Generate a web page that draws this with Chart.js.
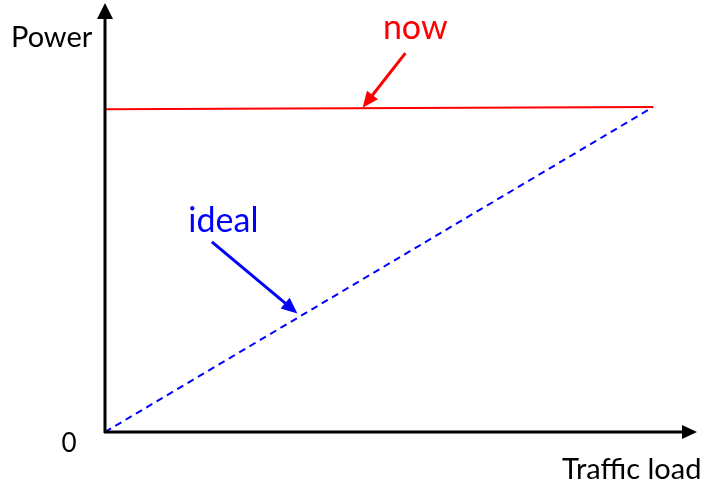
<!DOCTYPE html>
<html lang="en">
<head>
    <meta charset="UTF-8">
    <title>Power vs Traffic load</title>
    <script src="https://cdn.jsdelivr.net/npm/chart.js"></script>
    <style>
        html, body { margin: 0; padding: 0; background: #fff; }
        #wrap { width: 708px; height: 485px; }
    </style>
</head>
<body>
    <div id="wrap"><canvas id="powerChart" width="708" height="485"></canvas></div>

    <script>
        // data (traffic load 0..100, power 0..100)
        const loadPoints = [0, 100];
        const nowPower = [99.3, 100];
        const idealPower = [0, 100];

        // axis ranges (room for the arrow heads)
        const loadMax = 108;
        const powerMax = 132;

        // annotation arrows, in data units: [fromX, fromY, toX, toY]
        const nowArrow = [54.8, 116.6, 47.0, 99.8];
        const idealArrow = [19.5, 58.5, 35.1, 36.5];
        const nowLabel = [56.6, 124.2];
        const idealLabel = [21.6, 65.0];

        const FONT = 'Lato, "Open Sans", sans-serif';

        function arrowHead(ctx, x1, y1, x2, y2, len, half) {
            const a = Math.atan2(y2 - y1, x2 - x1);
            ctx.beginPath();
            ctx.moveTo(x2, y2);
            ctx.lineTo(x2 - len * Math.cos(a) + half * Math.sin(a), y2 - len * Math.sin(a) - half * Math.cos(a));
            ctx.lineTo(x2 - len * Math.cos(a) - half * Math.sin(a), y2 - len * Math.sin(a) + half * Math.cos(a));
            ctx.closePath();
            ctx.fill();
        }

        function drawArrow(ctx, x1, y1, x2, y2, color) {
            const a = Math.atan2(y2 - y1, x2 - x1);
            ctx.strokeStyle = color;
            ctx.fillStyle = color;
            ctx.lineWidth = 3;
            ctx.beginPath();
            ctx.moveTo(x1, y1);
            ctx.lineTo(x2 - 12 * Math.cos(a), y2 - 12 * Math.sin(a));
            ctx.stroke();
            arrowHead(ctx, x1, y1, x2, y2, 16, 7);
        }

        const axesPlugin = {
            id: 'axesPlugin',
            afterDatasetsDraw(chart) {
                const ctx = chart.ctx;
                const xs = chart.scales.x, ys = chart.scales.y;
                const ox = xs.getPixelForValue(0), oy = ys.getPixelForValue(0);
                const xr = xs.getPixelForValue(loadMax), yt = ys.getPixelForValue(powerMax);
                ctx.save();

                // axes
                ctx.strokeStyle = '#000';
                ctx.fillStyle = '#000';
                ctx.lineWidth = 3;
                ctx.beginPath();
                ctx.moveTo(ox, oy + 1);
                ctx.lineTo(ox, yt + 10);
                ctx.moveTo(ox - 1, oy);
                ctx.lineTo(xr - 10, oy);
                ctx.stroke();
                arrowHead(ctx, ox, oy, ox, yt, 16, 8);
                arrowHead(ctx, ox, oy, xr, oy, 15, 7);

                // axis texts
                ctx.textBaseline = 'middle';
                ctx.textAlign = 'center';
                ctx.font = '26px ' + FONT;
                ctx.fillText('0', ox - 36, oy + 12);
                ctx.textAlign = 'left';
                ctx.font = '29px ' + FONT;
                ctx.fillText('Power', 11, 38);
                ctx.fillText('Traffic load', 562, oy + 38);

                // annotations
                drawArrow(ctx, xs.getPixelForValue(nowArrow[0]), ys.getPixelForValue(nowArrow[1]),
                    xs.getPixelForValue(nowArrow[2]), ys.getPixelForValue(nowArrow[3]), '#ff0000');
                drawArrow(ctx, xs.getPixelForValue(idealArrow[0]), ys.getPixelForValue(idealArrow[1]),
                    xs.getPixelForValue(idealArrow[2]), ys.getPixelForValue(idealArrow[3]), '#0000ff');

                ctx.textAlign = 'center';
                ctx.font = '34px ' + FONT;
                ctx.fillStyle = '#ff0000';
                ctx.fillText('now', xs.getPixelForValue(nowLabel[0]), ys.getPixelForValue(nowLabel[1]));
                ctx.fillStyle = '#0000ff';
                ctx.fillText('ideal', xs.getPixelForValue(idealLabel[0]), ys.getPixelForValue(idealLabel[1]));

                ctx.restore();
            }
        };

        new Chart(document.getElementById('powerChart'), {
            type: 'scatter',
            data: {
                datasets: [
                    {
                        label: 'now',
                        data: loadPoints.map((x, i) => ({ x: x, y: nowPower[i] })),
                        showLine: true,
                        borderColor: '#ff0000',
                        borderWidth: 2,
                        pointRadius: 0
                    },
                    {
                        label: 'ideal',
                        data: loadPoints.map((x, i) => ({ x: x, y: idealPower[i] })),
                        showLine: true,
                        borderColor: '#0000ff',
                        borderWidth: 2,
                        borderDash: [7, 5],
                        pointRadius: 0
                    }
                ]
            },
            options: {
                responsive: false,
                animation: false,
                events: [],
                layout: { padding: { left: 105, right: 11, top: 3, bottom: 53 } },
                plugins: { legend: { display: false }, tooltip: { enabled: false } },
                scales: {
                    x: { type: 'linear', min: 0, max: loadMax, display: false },
                    y: { type: 'linear', min: 0, max: powerMax, display: false }
                }
            },
            plugins: [axesPlugin]
        });
    </script>
</body>
</html>
